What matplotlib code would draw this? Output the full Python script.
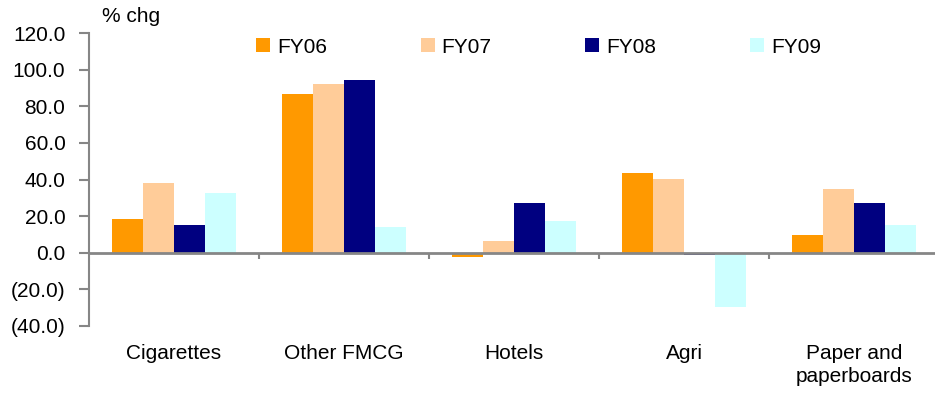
import numpy as np
import matplotlib
matplotlib.use('Agg')
import matplotlib.pyplot as plt

plt.rcParams['font.family'] = ['Liberation Sans', 'DejaVu Sans']
plt.rcParams['font.size'] = 15

# growth by segment, % change
segments = ['Cigarettes', 'Other FMCG', 'Hotels', 'Agri', 'Paper and\npaperboards']
years = ['FY06', 'FY07', 'FY08', 'FY09']
fy06 = [18.3, 86.6, -2.3, 43.4, 9.6]
fy07 = [38.0, 92.1, 6.3, 40.2, 34.7]
fy08 = [15.0, 94.3, 27.0, -1.2, 27.0]
fy09 = [32.5, 13.9, 17.2, -29.8, 15.0]
colors = ['#FF9900', '#FFCC99', '#000080', '#CCFFFF']

series = [fy06, fy07, fy08, fy09]
axis_grey = '#868686'

fig = plt.figure(figsize=(9.35, 3.93), dpi=100)
ax = fig.add_axes([0.0952, 0.1712, 0.9048, 0.7441])

x = np.arange(len(segments))
w = 0.1825
for i, (vals, col, lab) in enumerate(zip(series, colors, years)):
    ax.bar(x + (i - 1.5) * w, vals, width=w, color=col, label=lab, linewidth=0)

ax.set_ylim(-40, 120)
ax.set_xlim(-0.5, 4.476)
ax.set_yticks(np.arange(-40, 121, 20))
ax.set_yticklabels(['(40.0)', '(20.0)', '0.0', '20.0', '40.0', '60.0', '80.0', '100.0', '120.0'])
ax.set_xticks(x)
ax.set_xticklabels(segments, va='top', linespacing=1.3)
ax.tick_params(axis='x', length=0, pad=13)
ax.tick_params(axis='y', direction='out', length=7, width=1.5, color=axis_grey, pad=10)

for s in ['top', 'right', 'bottom']:
    ax.spines[s].set_visible(False)
ax.spines['left'].set_color(axis_grey)
ax.spines['left'].set_linewidth(1.5)

# zero line with group separators hanging below it
ax.axhline(0, color=axis_grey, linewidth=2, zorder=3)
ax.vlines(x[:-1] + 0.5, -3.6, 0, color=axis_grey, linewidth=1.5, zorder=3)

ax.legend(loc='upper left', bbox_to_anchor=(0.175, 1.049), ncol=4, frameon=False,
          handlelength=0.67, handleheight=0.67, handletextpad=0.34, columnspacing=4.5,
          fontsize=15)

fig.text(0.109, 0.958, '% chg', fontsize=15, va='center', ha='left')

fig.savefig('out.png', dpi=100)
